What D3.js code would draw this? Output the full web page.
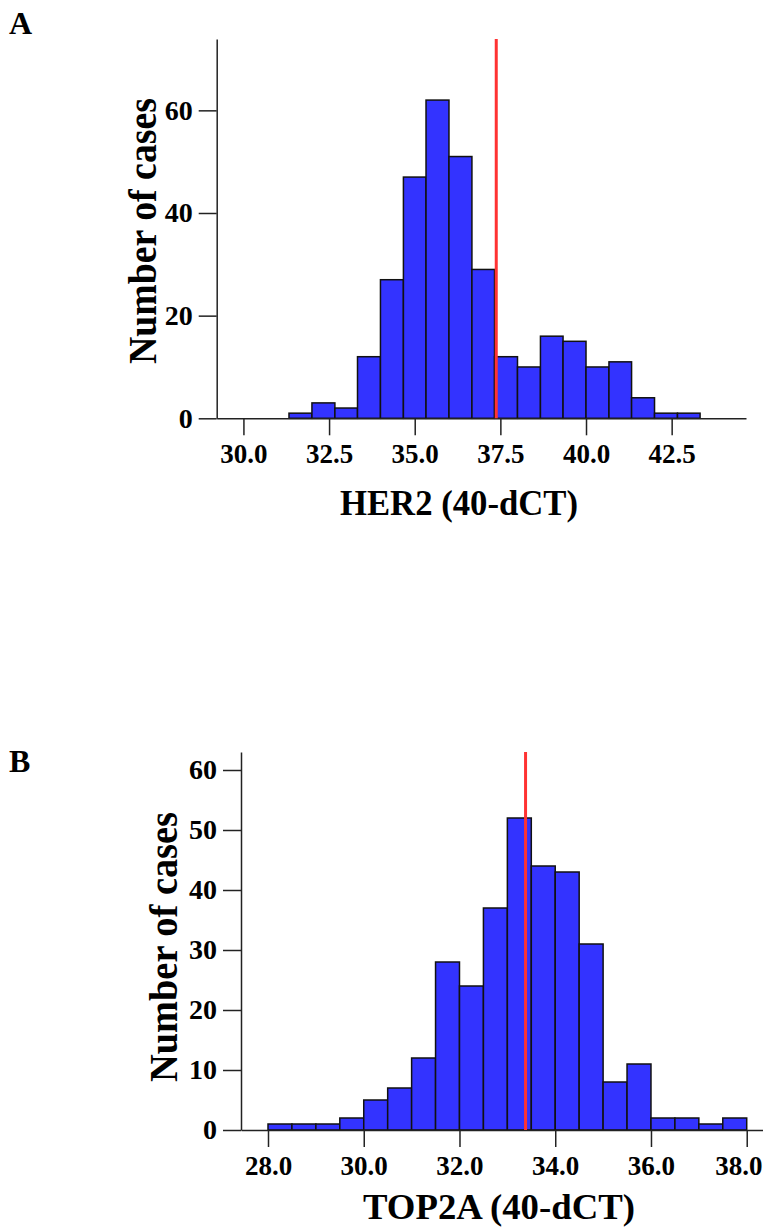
<!DOCTYPE html>
<html>
<head>
<meta charset="utf-8">
<script src="https://cdn.jsdelivr.net/npm/d3@7"></script>
<style>
  body { margin: 0; background: #fff; }
  text { font-family: "Liberation Serif", "Times New Roman", serif; fill: #000; }
  .domain, .tick line { stroke: #222; stroke-width: 1.5; }
</style>
</head>
<body>
<div id="chart-area"></div>
<script>
// HER2 histogram (panel A)
const herBinEdges = [31.33, 32.0, 32.67, 33.33, 34.0, 34.67, 35.33, 36.0, 36.67, 37.33,
                     38.0, 38.67, 39.33, 40.0, 40.67, 41.33, 42.0, 42.67, 43.33];
const herCounts = [1, 3, 2, 12, 27, 47, 62, 51, 29, 12, 10, 16, 15, 10, 11, 4, 1, 1];
const herCutoff = 37.38;
const herXTicks = [30.0, 32.5, 35.0, 37.5, 40.0, 42.5];
const herYTicks = [0, 20, 40, 60];

// TOP2A histogram (panel B)
const topBinEdges = [28.0, 28.5, 29.0, 29.5, 30.0, 30.5, 31.0, 31.5, 32.0, 32.5, 33.0,
                     33.5, 34.0, 34.5, 35.0, 35.5, 36.0, 36.5, 37.0, 37.5, 38.0];
const topCounts = [1, 1, 1, 2, 5, 7, 12, 28, 24, 37, 52, 44, 43, 31, 8, 11, 2, 2, 1, 2];
const topCutoff = 33.38;
const topXTicks = [28.0, 30.0, 32.0, 34.0, 36.0, 38.0];
const topYTicks = [0, 10, 20, 30, 40, 50, 60];

var W = 763, H = 1232;

var svg = d3.select("#chart-area")
    .append("svg")
        .attr("width", W)
        .attr("height", H);

function drawPanel(p) {
    var g = svg.append("g");

    var x = d3.scaleLinear().domain(p.xDomain).range(p.xRange);
    var y = d3.scaleLinear().domain(p.yDomain).range(p.yRange);

    // bins built from edges + counts
    var bins = p.counts.map(function(c, i) {
        return {x0: p.edges[i], x1: p.edges[i + 1], n: c};
    });

    g.selectAll("rect.bar")
        .data(bins)
        .enter()
        .append("rect")
        .attr("class", "bar")
        .attr("x", function(d) { return x(d.x0); })
        .attr("width", function(d) { return x(d.x1) - x(d.x0); })
        .attr("y", function(d) { return y(d.n); })
        .attr("height", function(d) { return y(0) - y(d.n); })
        .attr("fill", "#3333ff")
        .attr("stroke", "#111")
        .attr("stroke-width", 1.5);

    // axes
    var xAxis = g.append("g")
        .attr("transform", "translate(0," + y(0) + ")")
        .call(d3.axisBottom(x)
            .tickValues(p.xTicks)
            .tickFormat(d3.format(".1f"))
            .tickSize(17)
            .tickSizeOuter(0)
            .tickPadding(9));
    xAxis.selectAll("text")
        .attr("font-size", "27px")
        .attr("font-weight", "bold")
        .style("font-family", "Liberation Serif");
    // keep the last tick label inside the page
    xAxis.selectAll(".tick text")
        .filter(function(d) { return x(d) + 26 > W; })
        .attr("text-anchor", "end")
        .attr("x", function(d) { return W - 1 - x(d); });

    var yAxis = g.append("g")
        .attr("transform", "translate(" + x.range()[0] + ",0)")
        .call(d3.axisLeft(y)
            .tickValues(p.yTicks)
            .tickFormat(d3.format("d"))
            .tickSize(18)
            .tickSizeOuter(0)
            .tickPadding(6));
    yAxis.selectAll("text")
        .attr("font-size", "28px")
        .attr("font-weight", "bold")
        .style("font-family", "Liberation Serif");

    // cut-off line
    g.append("line")
        .attr("x1", x(p.cutoff))
        .attr("x2", x(p.cutoff))
        .attr("y1", y.range()[1])
        .attr("y2", y(0))
        .attr("stroke", "#ff3333")
        .attr("stroke-width", 3);

    // labels
    g.append("text")
        .attr("x", p.xLabelPos[0])
        .attr("y", p.xLabelPos[1])
        .attr("text-anchor", "middle")
        .attr("font-size", "36px")
        .attr("font-weight", "bold")
        .attr("textLength", p.xLabelLen)
        .attr("lengthAdjust", "spacingAndGlyphs")
        .text(p.xLabel);

    g.append("text")
        .attr("transform", "translate(" + p.yLabelPos[0] + "," + p.yLabelPos[1] + ") rotate(-90)")
        .attr("text-anchor", "middle")
        .attr("font-size", "40px")
        .attr("font-weight", "bold")
        .attr("textLength", p.yLabelLen)
        .attr("lengthAdjust", "spacingAndGlyphs")
        .text("Number of cases");

    g.append("text")
        .attr("x", 9)
        .attr("y", p.letterY)
        .attr("font-size", "32px")
        .attr("font-weight", "bold")
        .text(p.letter);
}

drawPanel({
    letter: "A", letterY: 34,
    edges: herBinEdges, counts: herCounts, cutoff: herCutoff,
    xTicks: herXTicks, yTicks: herYTicks,
    xDomain: [29.22, 44.67], xRange: [216.7, 746],
    yDomain: [0, 73.9], yRange: [418.3, 39],
    xLabel: "HER2 (40-dCT)", xLabelPos: [459, 515], xLabelLen: 238,
    yLabelPos: [156, 231], yLabelLen: 266
});

drawPanel({
    letter: "B", letterY: 772,
    edges: topBinEdges, counts: topCounts, cutoff: topCutoff,
    xTicks: topXTicks, yTicks: topYTicks,
    xDomain: [27.436, 38.34], xRange: [241, 763],
    yDomain: [0, 63], yRange: [1130, 752],
    xLabel: "TOP2A (40-dCT)", xLabelPos: [499, 1219], xLabelLen: 272,
    yLabelPos: [177, 947], yLabelLen: 270
});
</script>
</body>
</html>
